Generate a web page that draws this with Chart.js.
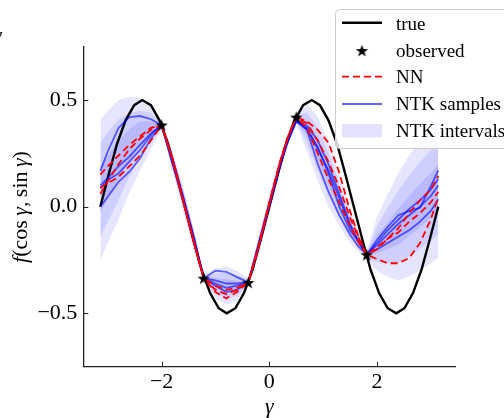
<!DOCTYPE html>
<html>
<head>
<meta charset="utf-8">
<script src="https://cdn.jsdelivr.net/npm/chart.js@4.4.0/dist/chart.umd.min.js"></script>
<style>
html, body { margin: 0; padding: 0; background: #fff; }
canvas { display: block; }
</style>
</head>
<body>
<canvas id="chart" width="504" height="418"></canvas>
<script>
// tick positions
const xTicks = [-2, 0, 2];
const yTicks = [-0.5, 0, 0.5];

// true function
const trueX = [-3.14,-2.98,-2.83,-2.67,-2.51,-2.36,-2.20,-2.04,-1.88,-1.73,-1.57,-1.41,-1.26,-1.10,-0.94,-0.79,-0.63,-0.47,-0.31,-0.16,0,
  0.16,0.31,0.47,0.63,0.79,0.94,1.10,1.26,1.41,1.57,1.73,1.88,2.04,2.20,2.36,2.51,2.67,2.83,2.98,3.14];
const trueY = [0,0.155,0.294,0.405,0.476,0.5,0.476,0.405,0.294,0.155,0,-0.155,-0.294,-0.405,-0.476,-0.5,-0.476,-0.405,-0.294,-0.155,
  0,0.155,0.294,0.405,0.476,0.5,0.476,0.405,0.294,0.155,0,-0.155,-0.294,-0.405,-0.476,-0.5,-0.476,-0.405,-0.294,-0.155,0];

// observed points (stars)
const obsX = [-2.0, -1.22, -0.39, 0.5, 1.81];
const obsY = [0.383, -0.335, -0.355, 0.42, -0.225];

// grid used by samples and intervals
const gx = [-3.14,-3.0,-2.8,-2.6,-2.4,-2.2,-2.0,-1.8,-1.6,-1.4,-1.22,-1.0,-0.8,-0.6,-0.39,-0.2,0.0,0.2,0.35,0.5,
  0.7,0.9,1.1,1.3,1.5,1.65,1.81,2.0,2.2,2.4,2.6,2.8,3.0,3.14];

// NTK samples (blue)
const ntk1 = [0.167,0.26,0.37,0.42,0.425,0.41,0.383, 0.20,0.03,-0.17,-0.335,-0.30,-0.305,-0.33,-0.355,
  -0.19,0.0,0.19,0.31,0.40, 0.38,0.31,0.20,0.06,-0.08,-0.16,-0.225, -0.156,-0.094,-0.04,-0.02,-0.005,0.095,0.17];
const ntk2 = [0.10,0.134,0.19,0.235,0.29,0.344,0.383, 0.215,0.04,-0.15,-0.335,-0.345,-0.36,-0.36,-0.355,
  -0.18,0.01,0.20,0.31,0.41, 0.36,0.28,0.156,0.0,-0.11,-0.16,-0.225, -0.18,-0.13,-0.08,-0.04,0.0,0.05,0.10];
const ntk3 = [0.0,0.047,0.117,0.164,0.227,0.32,0.383, 0.23,0.05,-0.14,-0.335,-0.37,-0.40,-0.39,-0.355,
  -0.17,0.02,0.21,0.32,0.40, 0.36,0.20,0.07,-0.04,-0.13,-0.185,-0.225, -0.20,-0.17,-0.14,-0.11,-0.07,-0.02,0.035];
const ntk4 = [0.086,0.125,0.156,0.211,0.266,0.336,0.383, 0.21,0.035,-0.16,-0.335,-0.36,-0.38,-0.37,-0.355,
  -0.185,0.005,0.195,0.31,0.40, 0.37,0.27,0.17,0.04,-0.09,-0.16,-0.225, -0.17,-0.11,-0.06,-0.01,0.03,0.08,0.13];

// NN runs (red dashed)
const nn1 = [0.15,0.19,0.24,0.29,0.33,0.37,0.383, 0.225,0.03,-0.165,-0.335,-0.37,-0.39,-0.38,-0.355,
  -0.19,0.01,0.205,0.325,0.42, 0.40,0.36,0.30,0.16,-0.02,-0.135,-0.225, -0.20,-0.15,-0.10,-0.03,0.03,0.08,0.145];
const nn2 = [0.06,0.12,0.20,0.27,0.32,0.36,0.383, 0.22,0.025,-0.17,-0.335,-0.39,-0.41,-0.39,-0.355,
  -0.185,0.02,0.21,0.33,0.42, 0.37,0.25,0.13,0.02,-0.09,-0.165,-0.225, -0.245,-0.265,-0.265,-0.24,-0.17,-0.06,0.045];
const nn3 = [0.09,0.11,0.14,0.19,0.24,0.31,0.383, 0.225,0.03,-0.165,-0.335,-0.40,-0.43,-0.40,-0.355,
  -0.19,0.015,0.21,0.33,0.42, 0.39,0.31,0.21,0.09,-0.05,-0.14,-0.225, -0.19,-0.15,-0.12,-0.07,-0.03,0.02,0.07];

// NTK intervals (three nested bands)
const outerHi = [0.41,0.45,0.50,0.515,0.51,0.47,0.403, 0.26,0.095,-0.11,-0.315,-0.29,-0.28,-0.30,-0.335,
  -0.145,0.055,0.24,0.35,0.43, 0.48,0.42,0.30,0.15,-0.01,-0.11,-0.205, -0.05,0.06,0.16,0.24,0.31,0.371,0.42];
const outerLo = [-0.25,-0.17,-0.06,0.065,0.17,0.27,0.363, 0.17,-0.025,-0.21,-0.355,-0.43,-0.46,-0.44,-0.375,
  -0.225,-0.035,0.16,0.29,0.39, 0.26,0.12,0.0,-0.09,-0.17,-0.21,-0.245, -0.30,-0.33,-0.346,-0.326,-0.30,-0.265,-0.24];
const midHi = [0.30,0.35,0.41,0.44,0.45,0.44,0.396, 0.245,0.075,-0.127,-0.322,-0.313,-0.31,-0.323,-0.342,
  -0.158,0.04,0.227,0.34,0.423, 0.443,0.37,0.25,0.11,-0.037,-0.127,-0.212, -0.092,-0.005,0.076,0.146,0.208,0.265,0.31];
const midLo = [-0.14,-0.07,0.03,0.14,0.23,0.30,0.37, 0.185,-0.005,-0.193,-0.348,-0.407,-0.43,-0.417,-0.368,
  -0.212,-0.02,0.173,0.30,0.397, 0.297,0.17,0.05,-0.05,-0.143,-0.193,-0.238, -0.258,-0.265,-0.262,-0.232,-0.198,-0.159,-0.13];
const innerHi = [0.19,0.24,0.31,0.365,0.40,0.40,0.39, 0.23,0.055,-0.143,-0.328,-0.337,-0.34,-0.347,-0.348,
  -0.172,0.025,0.213,0.33,0.417, 0.407,0.32,0.20,0.07,-0.063,-0.143,-0.218, -0.133,-0.07,-0.009,0.051,0.107,0.159,0.20];
const innerLo = [-0.03,0.04,0.13,0.215,0.28,0.34,0.376, 0.20,0.015,-0.177,-0.342,-0.383,-0.40,-0.393,-0.362,
  -0.198,-0.005,0.187,0.31,0.403, 0.333,0.22,0.10,-0.01,-0.117,-0.177,-0.232, -0.217,-0.20,-0.177,-0.137,-0.097,-0.053,-0.02];

const pts = (xs, ys) => xs.map((x, i) => ({ x: x, y: ys[i] }));

const SERIF = '"Liberation Serif", "DejaVu Serif", serif';
const BAND = 'rgba(0,0,255,0.1)';
const BLUE = 'rgba(0,0,255,0.6)';
const RED = '#ff0000';
const DASH = [7, 4];

// filled star marker like matplotlib '*'
function makeStar(r) {
    const c = document.createElement('canvas');
    const s = Math.ceil(r * 2 + 2);
    c.width = s; c.height = s;
    const g = c.getContext('2d');
    g.fillStyle = '#000';
    g.beginPath();
    for (let i = 0; i < 10; i++) {
        const rad = i % 2 === 0 ? r : r * 0.4;
        const a = -Math.PI / 2 + i * Math.PI / 5;
        const px = s / 2 + rad * Math.cos(a), py = s / 2 + r * 0.1 + rad * Math.sin(a);
        if (i === 0) g.moveTo(px, py); else g.lineTo(px, py);
    }
    g.closePath();
    g.fill();
    return c;
}
const star = makeStar(6.5);

function band(data, fill) {
    return { data: data, fill: fill, backgroundColor: BAND, borderColor: 'rgba(0,0,0,0)',
             borderWidth: 0, pointRadius: 0, order: 4 };
}
function sample(ys, color, dash, order) {
    return { data: pts(gx, ys), borderColor: color, borderWidth: 1.8, borderDash: dash,
             pointRadius: 0, fill: false, order: order };
}

// ticks (inward), axis titles, legend, stray glyph
const decor = {
    id: 'decor',
    afterDraw(chart) {
        const { ctx, scales: { x, y }, chartArea: a } = chart;
        ctx.save();
        ctx.strokeStyle = '#222';
        ctx.lineWidth = 1;
        xTicks.forEach(v => {
            const px = Math.round(x.getPixelForValue(v)) + 0.5;
            ctx.beginPath(); ctx.moveTo(px, a.bottom); ctx.lineTo(px, a.bottom - 5); ctx.stroke();
        });
        yTicks.forEach(v => {
            const py = Math.round(y.getPixelForValue(v)) + 0.5;
            ctx.beginPath(); ctx.moveTo(a.left, py); ctx.lineTo(a.left + 5, py); ctx.stroke();
        });

        ctx.fillStyle = '#000';
        ctx.textBaseline = 'alphabetic';
        // x title
        ctx.font = 'italic 22px ' + SERIF;
        ctx.textAlign = 'center';
        ctx.fillText('γ', (a.left + a.right) / 2, 413);
        // clipped glyph at the top-left corner
        ctx.textAlign = 'left';
        ctx.fillText('γ', -7, 42);

        // y title, mixed upright / italic
        const parts = [['f', 'italic'], ['(cos', ''], ['\u2009', ''], ['γ', 'italic'], [',', ''],
                       ['\u2009sin', ''], ['\u2009', ''], ['γ', 'italic'], [')', '']];
        let total = 0;
        parts.forEach(p => { ctx.font = (p[1] ? p[1] + ' ' : '') + '22px ' + SERIF; p.push(ctx.measureText(p[0]).width); total += p[2]; });
        ctx.save();
        ctx.translate(27, 207);
        ctx.rotate(-Math.PI / 2);
        let cx = -total / 2;
        parts.forEach(p => { ctx.font = (p[1] ? p[1] + ' ' : '') + '22px ' + SERIF; ctx.fillText(p[0], cx, 0); cx += p[2]; });
        ctx.restore();

        // legend
        ctx.beginPath();
        ctx.roundRect(335.5, 9.5, 200, 139, 4);
        ctx.fillStyle = 'rgba(255,255,255,0.8)';
        ctx.fill();
        ctx.strokeStyle = '#cccccc';
        ctx.lineWidth = 1;
        ctx.stroke();

        const hx0 = 342, hx1 = 382, tx = 396;
        ctx.lineWidth = 2.4; ctx.strokeStyle = '#000';
        ctx.beginPath(); ctx.moveTo(hx0, 22.7); ctx.lineTo(hx1, 22.7); ctx.stroke();
        ctx.drawImage(star, 362 - star.width / 2, 50.5 - star.height / 2);
        ctx.lineWidth = 1.8; ctx.strokeStyle = RED; ctx.setLineDash(DASH);
        ctx.beginPath(); ctx.moveTo(hx0, 76.7); ctx.lineTo(hx1, 76.7); ctx.stroke();
        ctx.setLineDash([]);
        ctx.strokeStyle = BLUE;
        ctx.beginPath(); ctx.moveTo(hx0, 104); ctx.lineTo(hx1, 104); ctx.stroke();
        ctx.fillStyle = 'rgba(0,0,255,0.11)';
        ctx.fillRect(hx0, 124, hx1 - hx0, 13.5);

        ctx.fillStyle = '#000';
        ctx.font = '19px ' + SERIF;
        ctx.textAlign = 'left';
        ctx.fillText('true', tx, 30);
        ctx.fillText('observed', tx, 56.7);
        ctx.fillText('NN', tx, 83.3);
        ctx.fillText('NTK samples', tx, 110);
        ctx.fillText('NTK intervals', tx, 136.7);
        ctx.restore();
    }
};

new Chart(document.getElementById('chart').getContext('2d'), {
    type: 'line',
    data: {
        datasets: [
            band(pts(gx, outerHi), '+1'),
            band(pts(gx, outerLo), false),
            band(pts(gx, midHi), '+1'),
            band(pts(gx, midLo), false),
            band(pts(gx, innerHi), '+1'),
            band(pts(gx, innerLo), false),
            { data: pts(trueX, trueY), borderColor: '#000', borderWidth: 2.4, pointRadius: 0, fill: false, order: 3 },
            sample(ntk1, BLUE, [], 2),
            sample(ntk2, BLUE, [], 2),
            sample(ntk3, BLUE, [], 2),
            sample(ntk4, BLUE, [], 2),
            sample(nn1, RED, DASH, 1),
            sample(nn2, RED, DASH, 1),
            sample(nn3, RED, DASH, 1),
            { data: pts(obsX, obsY), showLine: false, pointStyle: star, pointRadius: 6, order: 0 }
        ]
    },
    options: {
        responsive: false,
        animation: false,
        events: [],
        layout: { padding: { top: 46.7, right: 48.7, left: 0, bottom: 0 } },
        scales: {
            x: {
                type: 'linear',
                min: -3.456,
                max: 3.456,
                afterBuildTicks: s => { s.ticks = xTicks.map(v => ({ value: v })); },
                afterFit: s => { s.height = 51.3; },
                grid: { display: false, drawTicks: false },
                border: { display: true, color: '#222', width: 1.3 },
                ticks: {
                    padding: 2,
                    color: '#000',
                    font: { family: SERIF, size: 22 },
                    maxRotation: 0,
                    callback: v => v < 0 ? '\u2212' + Math.abs(v) : String(v)
                }
            },
            y: {
                type: 'linear',
                min: -0.75,
                max: 0.75,
                afterBuildTicks: s => { s.ticks = yTicks.map(v => ({ value: v })); },
                afterFit: s => { s.width = 83.3; },
                grid: { display: false, drawTicks: false },
                border: { display: true, color: '#222', width: 1.3 },
                ticks: {
                    padding: 6,
                    color: '#000',
                    font: { family: SERIF, size: 22 },
                    callback: v => (v < 0 ? '\u2212' : '') + Math.abs(v).toFixed(1)
                }
            }
        },
        plugins: {
            legend: { display: false },
            tooltip: { enabled: false },
            filler: { propagate: false }
        }
    },
    plugins: [decor]
});
</script>
</body>
</html>
